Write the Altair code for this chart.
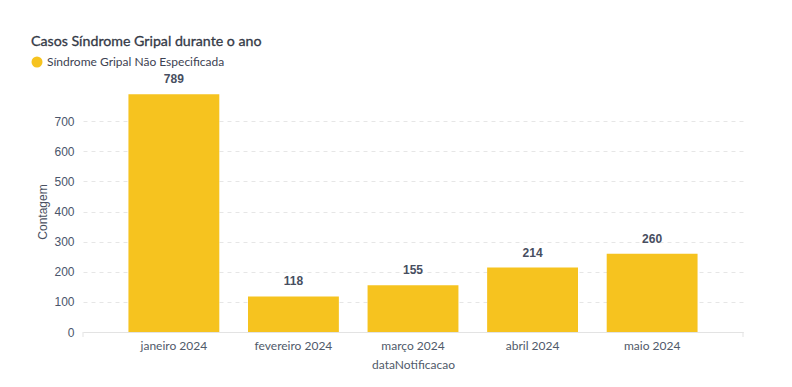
import altair as alt
import pandas as pd

months = ["janeiro 2024", "fevereiro 2024", "março 2024", "abril 2024", "maio 2024"]
counts = [789, 118, 155, 214, 260]
series = ["Síndrome Gripal Não Especificada"] * 5
y_ticks = [0, 100, 200, 300, 400, 500, 600, 700]
chart_title = ["Casos Síndrome Gripal durante o ano"]

df = pd.DataFrame({"dataNotificacao": months, "Contagem": counts, "serie": series})
df_title = pd.DataFrame({"t": chart_title})

BAR = "#F6C31F"
TXT = "#3d4252"

x_axis = alt.Axis(
    labelAngle=0, labelFont="Lato", labelFontSize=12, labelColor="#505a6a",
    labelPadding=8, ticks=False, domainColor="#e3e3e3", domainWidth=1,
    titleFont="Lato", titleFontSize=12, titleFontWeight="normal",
    titleColor="#505a6a", titlePadding=8, grid=False,
)
y_axis = alt.Axis(
    values=y_ticks, labelOverlap=False, labelFont="Liberation Sans", labelFontSize=12,
    labelColor="#4a556b", labelPadding=9, ticks=False, domain=False,
    grid=True, gridColor="#e6e6e6", gridDash=[4, 4],
    titleFont="Liberation Sans", titleFontSize=12, titleFontWeight="normal",
    titleColor="#4a5060", titlePadding=4,
)
x_scale = alt.Scale(paddingInner=0.24, paddingOuter=0.38)
y_scale = alt.Scale(domain=[0, 800], nice=False)

def x_enc():
    return alt.X("dataNotificacao:N", sort=months, title="dataNotificacao",
                 scale=x_scale, axis=x_axis)

def y_enc():
    return alt.Y("Contagem:Q", title="Contagem", scale=y_scale, axis=y_axis)

base = alt.Chart(df)

bars = base.mark_bar(color=BAR).encode(
    x=x_enc(),
    y=y_enc(),
    color=alt.Color(
        "serie:N",
        scale=alt.Scale(range=[BAR]),
        legend=alt.Legend(
            title=None, orient="none", legendX=-52, legendY=-35,
            symbolType="circle", symbolSize=121, symbolStrokeWidth=0,
            labelFont="Lato", labelFontSize=12, labelColor=TXT, labelLimit=400,
            symbolOffset=0, labelOffset=4, padding=0,
        ),
    ),
)

labels = base.mark_text(
    dy=-8, baseline="bottom", font="Liberation Sans", fontSize=12,
    fontWeight="bold", color="#474e60",
).encode(
    x=x_enc(),
    y=y_enc(),
    text="Contagem:Q",
)

tbase = alt.Chart(df_title)

title = tbase.mark_text(
    align="left", baseline="alphabetic", font="Lato", fontSize=14.2,
    fontWeight="normal", color="#343946", stroke="#343946", strokeWidth=0.3,
).encode(
    x=alt.value(-52), y=alt.value(-45),
    text="t:N",
)

end_ticks = tbase.mark_rule(color="#e3e3e3").encode(
    x=alt.value(0), y=alt.value(241), y2=alt.value(246)
)
end_ticks2 = tbase.mark_rule(color="#e3e3e3").encode(
    x=alt.value(660), y=alt.value(241), y2=alt.value(246)
)

chart = alt.layer(bars, labels, title, end_ticks, end_ticks2).properties(
    width=660, height=241,
    padding={"left": 75, "top": 83, "right": 41, "bottom": 45},
    autosize=alt.AutoSizeParams(type="none"),
    background="white",
).configure_view(stroke=None)

chart.save("out.html", embed_options={"renderer": "svg", "actions": False})
